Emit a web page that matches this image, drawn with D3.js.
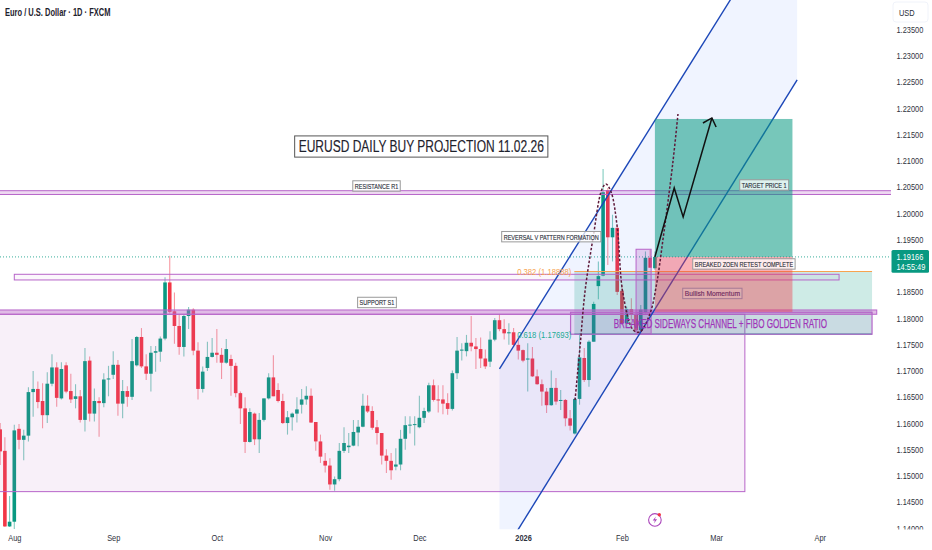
<!DOCTYPE html>
<html>
<head>
<meta charset="utf-8">
<script src="https://cdn.jsdelivr.net/npm/d3@7"></script>
<style>
html, body { margin: 0; padding: 0; background: #fff; }
svg { display: block; }
text { font-family: "Liberation Sans", Arial, sans-serif; }
</style>
</head>
<body>
<div id="chart"></div>
<script>
// daily bars, bar 0 is Aug 1 2025, bar 136 is Feb 11 2026
const firstBar = -3;
const opens = [
1.1588,1.1547,1.1403,1.1412,1.1589,1.1568,1.1576,1.1659,1.1665,1.1642,
1.1615,1.1675,1.1706,1.1647,1.1710,1.1661,1.1646,1.1651,1.1606,1.1719,
1.1618,1.1642,1.1638,1.1683,1.1692,1.1711,1.1637,1.1661,1.1650,1.1710,
1.1764,1.1708,1.1694,1.1734,1.1736,1.1761,1.1868,1.1813,1.1785,1.1745,
1.1804,1.1816,1.1738,1.1665,1.1705,1.1726,1.1734,1.1730,1.1715,1.1722,
1.1709,1.1657,1.1628,1.1564,1.1618,1.1569,1.1606,1.1647,1.1687,1.1663,
1.1642,1.1600,1.1611,1.1618,1.1635,1.1645,1.1652,1.1602,1.1565,1.1528,
1.1519,1.1483,1.1493,1.1547,1.1554,1.1557,1.1582,1.1593,1.1633,1.1623,
1.1592,1.1581,1.1538,1.1528,1.1517,1.1521,1.1570,1.1596,1.1597,1.1592,
1.1610,1.1622,1.1672,1.1645,1.1645,1.1638,1.1627,1.1695,1.1738,1.1737,
1.1753,1.1746,1.1741,1.1723,1.1717,1.1759,1.1796,1.1779,1.1771,1.1773,
1.1749,1.1739,1.1721,1.1723,1.1689,1.1674,1.1660,1.1634,1.1667,1.1643,
1.1644,1.1609,1.1580,1.1646,1.1724,1.1682,1.1755,1.1861,1.1881,1.2044,
1.1954,1.1972,1.1852,1.1790,1.1817,1.1808,1.1777,1.1811,1.1915,1.1895
];
const highs = [
1.1600,1.1573,1.1461,1.1597,1.1598,1.1587,1.1668,1.1699,1.1679,1.1676,
1.1697,1.1731,1.1716,1.1716,1.1716,1.1694,1.1674,1.1663,1.1743,1.1727,
1.1666,1.1649,1.1695,1.1709,1.1737,1.1720,1.1682,1.1670,1.1760,1.1766,
1.1781,1.1731,1.1747,1.1747,1.1765,1.1878,1.1919,1.1849,1.1806,1.1806,
1.1821,1.1819,1.1754,1.1708,1.1755,1.1762,1.1779,1.1743,1.1760,1.1730,
1.1715,1.1660,1.1649,1.1628,1.1620,1.1619,1.1647,1.1695,1.1729,1.1676,
1.1656,1.1623,1.1620,1.1649,1.1665,1.1670,1.1666,1.1602,1.1578,1.1543,
1.1533,1.1498,1.1562,1.1592,1.1581,1.1606,1.1606,1.1656,1.1653,1.1632,
1.1606,1.1581,1.1550,1.1543,1.1552,1.1587,1.1613,1.1613,1.1613,1.1652,
1.1629,1.1677,1.1683,1.1672,1.1672,1.1657,1.1700,1.1764,1.1752,1.1768,
1.1804,1.1762,1.1763,1.1740,1.1775,1.1800,1.1808,1.1798,1.1790,1.1781,
1.1765,1.1740,1.1752,1.1745,1.1702,1.1683,1.1667,1.1700,1.1686,1.1663,
1.1646,1.1625,1.1648,1.1771,1.1743,1.1758,1.1831,1.1908,1.2084,1.2048,
1.1997,1.1976,1.1863,1.1822,1.1838,1.1816,1.1825,1.1927,1.1930,1.1927
];
const lows = [
1.1520,1.1402,1.1402,1.1398,1.1550,1.1529,1.1565,1.1612,1.1628,1.1590,
1.1600,1.1670,1.1631,1.1645,1.1657,1.1638,1.1628,1.1601,1.1584,1.1603,
1.1603,1.1574,1.1630,1.1651,1.1684,1.1614,1.1609,1.1631,1.1644,1.1708,
1.1705,1.1682,1.1660,1.1698,1.1717,1.1758,1.1809,1.1751,1.1730,1.1727,
1.1779,1.1729,1.1645,1.1658,1.1699,1.1725,1.1715,1.1684,1.1713,1.1652,
1.1649,1.1598,1.1543,1.1563,1.1558,1.1543,1.1603,1.1645,1.1651,1.1639,
1.1598,1.1578,1.1586,1.1601,1.1618,1.1635,1.1600,1.1547,1.1524,1.1506,
1.1473,1.1471,1.1489,1.1543,1.1543,1.1556,1.1556,1.1592,1.1619,1.1587,
1.1559,1.1521,1.1505,1.1492,1.1510,1.1510,1.1549,1.1580,1.1557,1.1590,
1.1600,1.1619,1.1641,1.1620,1.1617,1.1616,1.1624,1.1684,1.1719,1.1727,
1.1737,1.1703,1.1705,1.1703,1.1707,1.1756,1.1775,1.1759,1.1749,1.1746,
1.1721,1.1716,1.1660,1.1688,1.1673,1.1633,1.1619,1.1633,1.1635,1.1625,
1.1594,1.1586,1.1578,1.1635,1.1678,1.1669,1.1755,1.1836,1.1880,1.1901,
1.1908,1.1844,1.1787,1.1781,1.1796,1.1774,1.1774,1.1809,1.1896,1.1892
];
const closes = [
1.1546,1.1403,1.1412,1.1586,1.1568,1.1576,1.1659,1.1665,1.1640,1.1615,
1.1675,1.1706,1.1648,1.1703,1.1660,1.1645,1.1651,1.1606,1.1718,1.1618,
1.1642,1.1638,1.1683,1.1685,1.1711,1.1637,1.1661,1.1650,1.1718,1.1764,
1.1708,1.1694,1.1734,1.1737,1.1761,1.1868,1.1812,1.1785,1.1745,1.1804,
1.1816,1.1738,1.1665,1.1698,1.1726,1.1734,1.1730,1.1715,1.1741,1.1709,
1.1657,1.1628,1.1564,1.1621,1.1569,1.1606,1.1647,1.1687,1.1651,1.1642,
1.1600,1.1611,1.1618,1.1626,1.1645,1.1652,1.1601,1.1565,1.1536,1.1519,
1.1483,1.1493,1.1547,1.1562,1.1557,1.1583,1.1593,1.1633,1.1622,1.1591,
1.1581,1.1538,1.1528,1.1510,1.1521,1.1570,1.1596,1.1597,1.1598,1.1610,
1.1623,1.1672,1.1644,1.1643,1.1637,1.1627,1.1695,1.1738,1.1740,1.1753,
1.1746,1.1741,1.1723,1.1708,1.1759,1.1796,1.1779,1.1771,1.1773,1.1749,
1.1738,1.1719,1.1723,1.1689,1.1674,1.1660,1.1634,1.1667,1.1641,1.1644,
1.1609,1.1595,1.1646,1.1725,1.1682,1.1755,1.1827,1.1880,1.2040,1.1954,
1.1972,1.1850,1.1790,1.1817,1.1806,1.1777,1.1816,1.1915,1.1896,1.19166
];

// 1.19000 sits behind the last price tag, so it is left out
const priceTicks = [1.14,1.145,1.15,1.155,1.16,1.165,1.17,1.175,1.18,1.185,1.195,1.2,1.205,1.21,1.215,1.22,1.225,1.23,1.235];
const monthBars = [0,21,43,66,86,108,129,149,171];
const monthLabels = ["Aug","Sep","Oct","Nov","Dec","2026","Feb","Mar","Apr"];

// drawings, in bars and prices
const lastPrice = 1.19166;
const resistanceZone = [1.20428,1.20356];
const supportZone = [1.18155,1.18073];
const thinZone = [1.18835,1.18727];
const sidewaysRange = [1.18073,1.14693];
const channelUpper = [[103,1.17031],[166.2,1.2610]];
const channelLower = [[103,1.13397],[166.2,1.22538]];
const longBars = [136,165.2];
const longPrices = [1.21795,1.19166,1.18117];
const fibBars = [118.9,182.1];
const fibPrices = [1.18888,1.17693];
const retestBars = [118.1,182.1];
const retestPrices = [1.18111,1.17693];
const candleBoxBars = [132,135.2];
const candleBoxPrices = [1.19312,1.17693];
const vPattern = [[119.05,1.1644],[120.1,1.1745],[121.2,1.18536],[122.9,1.19546],[124.7,1.20442],[125.6,1.20556],[126.7,1.20404],[128,1.19737],[129.2,1.18479],[131.4,1.17774],[132.8,1.17736],[135,1.18098],[136.4,1.1867],[137.7,1.19489],[139.8,1.20956],[140.9,1.2189]];
const projection = [[136,1.19166],[140.1,1.2048],[142,1.19927],[148.1,1.21814]];
const arrowHead = [[146.2,1.21718],[148.1,1.21814],[149,1.21642]];

const noteTexts = ["RESISTANCE R1","SUPPORT S1","REVERSAL V PATTERN FORMATION","TARGET PRICE 1","BREAKED ZOEN RETEST COMPLETE","Bullish Momentum"];
const noteBars = [76.9,77,114,159.2,154.9,148.2];
const notePrices = [1.20518,1.18298,1.19552,1.20537,1.19032,1.1847];

const width = 932, height = 550, paneW = 891, paneH = 529.5;
const upColor = "#089981", downColor = "#f23645", purple = "#b765c9";

let x = d3.scaleLinear().domain([0,136]).range([14.3,654.9]);
let y = d3.scaleLinear().domain([1.14,1.235]).range([528,29.5]);

// the reference type is narrower than anything installed
function squeeze(sel, ratio){
    sel.each(function(){
        let len = this.getComputedTextLength();
        d3.select(this)
            .attr("textLength", len * ratio)
            .attr("lengthAdjust", "spacingAndGlyphs");
    });
    return sel;
}

let svg = d3.select("#chart").append("svg")
    .attr("width", width)
    .attr("height", height);

svg.append("clipPath").attr("id", "pane")
    .append("rect").attr("width", paneW).attr("height", paneH);

// price axis goes first, the time strip paints over the clipped 1.14000
let yAxis = svg.append("g")
    .attr("transform", `translate(${paneW + 5.5},0)`)
    .call(d3.axisRight(y).tickValues(priceTicks).tickSize(0).tickPadding(0).tickFormat(d3.format(".5f")));
yAxis.select(".domain").remove();
yAxis.selectAll("text").attr("fill", "#2f333e").style("font-size", "9.4px").call(squeeze, 0.79);

let pane = svg.append("g").attr("clip-path", "url(#pane)");

// candles
let bars = d3.range(opens.length).map(i => ({
    bar: i + firstBar, open: opens[i], high: highs[i], low: lows[i], close: closes[i]
}));
let candle = pane.selectAll(".candle").data(bars).join("g").attr("class", "candle");
candle.append("line")
    .attr("x1", d => x(d.bar)).attr("x2", d => x(d.bar))
    .attr("y1", d => y(d.high)).attr("y2", d => y(d.low))
    .attr("stroke", d => d.close >= d.open ? upColor : downColor)
    .attr("stroke-opacity", 0.5)
    .attr("stroke-width", 1.1);
candle.append("rect")
    .attr("x", d => x(d.bar) - 1.8)
    .attr("width", 3.6)
    .attr("y", d => y(Math.max(d.open, d.close)))
    .attr("height", d => Math.max(1, Math.abs(y(d.open) - y(d.close))))
    .attr("fill", d => d.close >= d.open ? upColor : downColor);

function zone(left, right, top, bottom, fill, stroke, strokeWidth){
    return pane.append("rect")
        .attr("x", x(left))
        .attr("width", x(right) - x(left))
        .attr("y", y(top))
        .attr("height", y(bottom) - y(top))
        .attr("fill", fill)
        .attr("stroke", stroke || "none")
        .attr("stroke-width", strokeWidth || 1);
}

// last price line
pane.append("line")
    .attr("x1", 0).attr("x2", paneW)
    .attr("y1", y(lastPrice)).attr("y2", y(lastPrice))
    .attr("stroke", upColor)
    .attr("stroke-width", 0.8)
    .attr("stroke-dasharray", "1,2");

// sideways range
zone(-10, 155.1, sidewaysRange[0], sidewaysRange[1], "rgba(186,104,200,0.1)", purple);

// channel
let line = d3.line().x(d => x(d[0])).y(d => y(d[1]));
pane.append("path")
    .attr("d", line([channelUpper[0], channelUpper[1], channelLower[1], channelLower[0]]) + "Z")
    .attr("fill", "rgba(41,98,255,0.07)");

// fib block
zone(fibBars[0], fibBars[1], fibPrices[0], fibPrices[1], "rgba(8,153,129,0.2)");

pane.append("line")
    .attr("x1", x(fibBars[0])).attr("x2", x(fibBars[1]))
    .attr("y1", y(fibPrices[0])).attr("y2", y(fibPrices[0]))
    .attr("stroke", "#f7a350").attr("stroke-width", 1.2);
pane.append("line")
    .attr("x1", x(fibBars[0])).attr("x2", x(fibBars[1]))
    .attr("y1", y(fibPrices[1])).attr("y2", y(fibPrices[1]))
    .attr("stroke", "#22ab94").attr("stroke-width", 1.2);

zone(-10, 190, resistanceZone[0], resistanceZone[1], "rgba(186,104,200,0.25)", purple);
zone(-10, 183.1, supportZone[0], supportZone[1], "rgba(186,104,200,0.45)", purple);
zone(0, 175.1, thinZone[0], thinZone[1], "rgba(186,104,200,0.05)", purple);
zone(retestBars[0], retestBars[1], retestPrices[0], retestPrices[1], "rgba(156,39,176,0.08)", purple, 1.2);
zone(candleBoxBars[0], candleBoxBars[1], candleBoxPrices[0], candleBoxPrices[1], "rgba(156,39,176,0.2)", purple);

[channelUpper, channelLower].forEach(function(pts){
    pane.append("path")
        .attr("d", line(pts))
        .attr("fill", "none")
        .attr("stroke", "#1c47b8")
        .attr("stroke-width", 1.4);
});

// long position sits over the lines
zone(longBars[0], longBars[1], longPrices[0], longPrices[1], "rgba(8,153,129,0.55)");
zone(longBars[0], longBars[1], longPrices[1], longPrices[2], "rgba(242,54,69,0.4)");

// v pattern, dark dashes
pane.append("path")
    .attr("d", d3.line().x(d => x(d[0])).y(d => y(d[1])).curve(d3.curveCatmullRom)(vPattern))
    .attr("fill", "none")
    .attr("stroke", "#5e1a3a")
    .attr("stroke-width", 1.5)
    .attr("stroke-dasharray", "2.5,1.8");

// projection arrow
[projection, arrowHead].forEach(function(pts){
    pane.append("path")
        .attr("d", line(pts))
        .attr("fill", "none")
        .attr("stroke", "#111")
        .attr("stroke-width", 1.5);
});

// fib texts
pane.append("text")
    .attr("x", x(fibBars[0]) - 3).attr("y", y(fibPrices[0]))
    .attr("dy", "0.35em").attr("text-anchor", "end")
    .attr("fill", "#f7a350").style("font-size", "9.6px")
    .text("0.382 (" + fibPrices[0].toFixed(5) + ")").call(squeeze, 0.8);
pane.append("text")
    .attr("x", x(fibBars[0]) - 3).attr("y", y(fibPrices[1]))
    .attr("dy", "0.35em").attr("text-anchor", "end")
    .attr("fill", "#22ab94").style("font-size", "9.6px")
    .text("0.618 (" + fibPrices[1].toFixed(5) + ")").call(squeeze, 0.8);

function note(label, bar, price, size, ratio, padX, padY, border, color, fill){
    let g = pane.append("g");
    let t = g.append("text")
        .attr("x", x(bar)).attr("y", y(price))
        .attr("dy", "0.36em")
        .attr("text-anchor", "middle")
        .attr("fill", color)
        .attr("stroke", color)
        .attr("stroke-width", 0.15)
        .style("font-size", size + "px")
        .text(label)
        .call(squeeze, ratio);
    let w = +t.attr("textLength");
    g.insert("rect", "text")
        .attr("x", x(bar) - w / 2 - padX).attr("y", y(price) - size * 0.5 - padY)
        .attr("width", w + padX * 2).attr("height", size + padY * 2)
        .attr("fill", fill)
        .attr("stroke", border)
        .attr("stroke-width", 1);
}

noteTexts.forEach(function(label, i){
    let purpleNote = label === "Bullish Momentum";
    note(label, noteBars[i], notePrices[i], 8, purpleNote ? 0.84 : 0.69, 2, 1.2,
        purpleNote ? "#a57a96" : "#9a9a9a",
        purpleNote ? "#6f2b60" : "#2a2e39",
        purpleNote ? "rgba(255,255,255,0.1)" : "rgba(255,255,255,0.75)");
});

note("EURUSD DAILY BUY PROJECTION 11.02.26", 86.4, 1.2127, 16, 0.75, 4, 2.6, "#555", "#1e222d", "#fff");

pane.append("text")
    .attr("x", x(149.9)).attr("y", y(1.17888))
    .attr("dy", "0.36em").attr("text-anchor", "middle")
    .attr("fill", "#a033b8")
    .attr("stroke", "#a033b8")
    .attr("stroke-width", 0.25)
    .style("font-size", "12.4px")
    .text("BREAKED SIDEWAYS CHANNEL + FIBO GOLDEN RATIO")
    .call(squeeze, 0.65);

// ideas marker
let mark = pane.append("g").attr("transform", `translate(${x(136)},${y(1.14153)})`);
mark.append("circle").attr("r", 6.3).attr("fill", "none").attr("stroke", "#ab47bc").attr("stroke-width", 1.1);
mark.append("path").attr("d", "M1,-3.5 L-2.2,0.6 L0,0.6 L-1,3.5 L2.2,-0.6 L0,-0.6 Z").attr("fill", "#ab47bc");
mark.append("circle").attr("cx", 4.4).attr("cy", -5.2).attr("r", 1.7).attr("fill", "#f23645");

// time strip
svg.append("rect").attr("y", paneH).attr("width", width).attr("height", height - paneH).attr("fill", "#fff");
let xAxis = svg.append("g")
    .attr("transform", `translate(0,${paneH})`)
    .call(d3.axisBottom(x).tickValues(monthBars).tickSize(0).tickPadding(5).tickFormat((d, i) => monthLabels[i]));
xAxis.select(".domain").remove();
xAxis.selectAll("text")
    .attr("fill", "#2f333e")
    .style("font-size", "9.4px")
    .style("font-weight", d => d === 108 ? "bold" : "normal")
    .call(squeeze, 0.79);

// header and currency
svg.append("text")
    .attr("x", 5).attr("y", 15.5)
    .attr("fill", "#1e222d")
    .style("font-size", "10px")
    .style("font-weight", "bold")
    .text("Euro / U.S. Dollar · 1D · FXCM")
    .call(squeeze, 0.75);
svg.append("rect")
    .attr("x", 893).attr("y", 2).attr("width", 35).attr("height", 20).attr("rx", 3)
    .attr("fill", "#fff").attr("stroke", "#f0f3fa");
svg.append("text")
    .attr("x", 899).attr("y", 15.5)
    .attr("fill", "#2a2e39")
    .style("font-size", "9.4px")
    .text("USD")
    .call(squeeze, 0.79);

// last price tag
svg.append("rect")
    .attr("x", paneW + 0.5).attr("y", y(lastPrice) - 6.8)
    .attr("width", 37.5).attr("height", 22.7).attr("rx", 1.5)
    .attr("fill", upColor);
svg.append("text")
    .attr("x", paneW + 5.5).attr("y", y(lastPrice) + 2.8)
    .attr("fill", "#fff").style("font-size", "9.4px")
    .text(lastPrice.toFixed(5)).call(squeeze, 0.79);
svg.append("text")
    .attr("x", paneW + 5.5).attr("y", y(lastPrice) + 12.6)
    .attr("fill", "#fff").style("font-size", "9.4px")
    .text("14:55:49").call(squeeze, 0.79);
</script>
</body>
</html>
